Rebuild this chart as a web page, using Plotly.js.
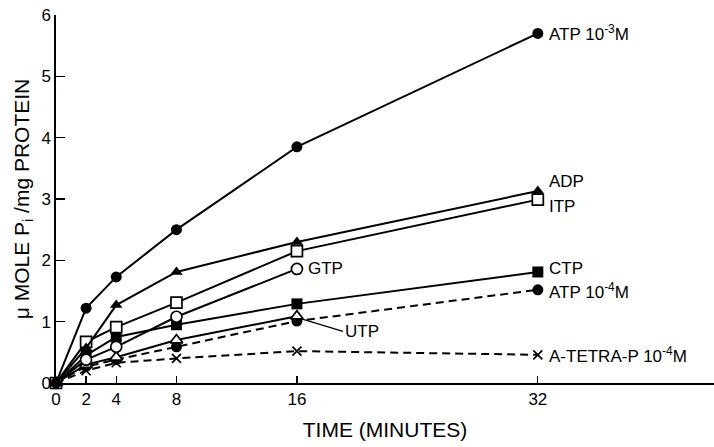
<!DOCTYPE html>
<html>
<head>
<meta charset="utf-8">
<script src="https://cdn.plot.ly/plotly-3.0.1.min.js"></script>
<style>html,body{margin:0;padding:0;background:#fff;}#chart{width:714px;height:447px;}</style>
</head>
<body>
<div id="chart"></div>
<script>
// Time points (minutes)
const timeFull = [0, 2, 4, 8, 16, 32];
const timeTo16 = [0, 2, 4, 8, 16];

// Series values (µmole Pi / mg protein)
const atp3 = [0, 1.22, 1.73, 2.50, 3.85, 5.70];
const adp = [0, 0.57, 1.27, 1.81, 2.30, 3.13];
const itp = [0, 0.67, 0.91, 1.31, 2.15, 2.99];
const gtp = [0, 0.38, 0.59, 1.08, 1.86];
const ctp = [0, 0.45, 0.75, 0.95, 1.29, 1.81];
const utp = [0, 0.30, 0.42, 0.70, 1.09];
const atp4 = [0, 0.27, 0.38, 0.59, 1.01, 1.52];
const tetra = [0, 0.20, 0.33, 0.40, 0.52, 0.46];

const xTicks = [0, 2, 4, 8, 16, 32];
const yTicks = [0, 1, 2, 3, 4, 5, 6];

const FAM = 'Liberation Sans, Arial, sans-serif';

function tr(x, y, sym, open, dash, name) {
  const isX = sym.indexOf('x') === 0;
  return {
    x: x, y: y, name: name, type: 'scatter', mode: 'lines+markers',
    line: {color: '#000', width: 2, dash: dash || 'solid'},
    marker: {symbol: sym, size: isX ? 9 : 11,
      color: (open && !isX) ? '#fff' : '#000',
      line: {color: '#000', width: open ? 1.7 : (isX ? 1.5 : 0)}},
    cliponaxis: false
  };
}

const data = [
  tr(timeFull, tetra, 'x-thin-open', true, '8px,5px', 'A-TETRA-P'),
  tr(timeFull, atp4, 'circle', false, '8px,5px', 'ATP 1e-4'),
  tr(timeTo16, utp, 'triangle-up', true, 'solid', 'UTP'),
  tr(timeFull, ctp, 'square', false, 'solid', 'CTP'),
  tr(timeTo16, gtp, 'circle', true, 'solid', 'GTP'),
  tr(timeFull, itp, 'square', true, 'solid', 'ITP'),
  tr(timeFull, adp, 'triangle-up', false, 'solid', 'ADP'),
  tr(timeFull, atp3, 'circle', false, 'solid', 'ATP 1e-3')
];

const fnt = {family: FAM, size: 17, color: '#000'};
function lab(x, y, text, xs) {
  return {x: x, y: y, xref: 'x', yref: 'y', text: text, showarrow: false,
    xanchor: 'left', yanchor: 'middle', xshift: xs || 9, font: fnt};
}

const layout = {
  width: 714, height: 447,
  margin: {l: 56, r: 0, t: 15, b: 64},
  paper_bgcolor: '#fff', plot_bgcolor: '#fff',
  showlegend: false,
  font: fnt,
  xaxis: {
    range: [0, 43.7], tickvals: xTicks, ticktext: xTicks.map(String),
    ticks: 'inside', ticklen: 7, tickwidth: 1.3, tickcolor: '#000',
    showline: true, linecolor: '#000', linewidth: 1.6,
    showgrid: false, zeroline: false,
    tickfont: {family: FAM, size: 17, color: '#000'},
    title: {text: 'TIME (MINUTES)', standoff: 14,
      font: {family: FAM, size: 21, color: '#000'}}
  },
  yaxis: {
    range: [0, 6], tickvals: yTicks,
    ticks: 'inside', ticklen: 9, tickwidth: 1.3, tickcolor: '#000',
    showline: true, linecolor: '#000', linewidth: 1.6,
    showgrid: false, zeroline: false,
    tickfont: {family: FAM, size: 17, color: '#000'},
    title: {text: '\u03bc MOLE P<sub>i</sub> /mg PROTEIN', standoff: 6,
      font: {family: FAM, size: 21, color: '#000'}}
  },
  annotations: [
    lab(32, 5.70, 'ATP 10<sup>-3</sup>M'),
    lab(32, 3.28, 'ADP'),
    lab(32, 2.88, 'ITP'),
    lab(16, 1.86, 'GTP'),
    lab(32, 1.86, 'CTP'),
    lab(32, 1.50, 'ATP 10<sup>-4</sup>M'),
    lab(32, 0.46, 'A-TETRA-P 10<sup>-4</sup>M'),
    {x: 16, y: 1.07, xref: 'x', yref: 'y', text: 'UTP', showarrow: true,
      arrowhead: 0, arrowwidth: 1.3, arrowcolor: '#000', ax: 46, ay: 14,
      xanchor: 'left', standoff: 4, font: fnt}
  ]
};

Plotly.newPlot('chart', data, layout, {displayModeBar: false, staticPlot: true});
</script>
</body>
</html>
